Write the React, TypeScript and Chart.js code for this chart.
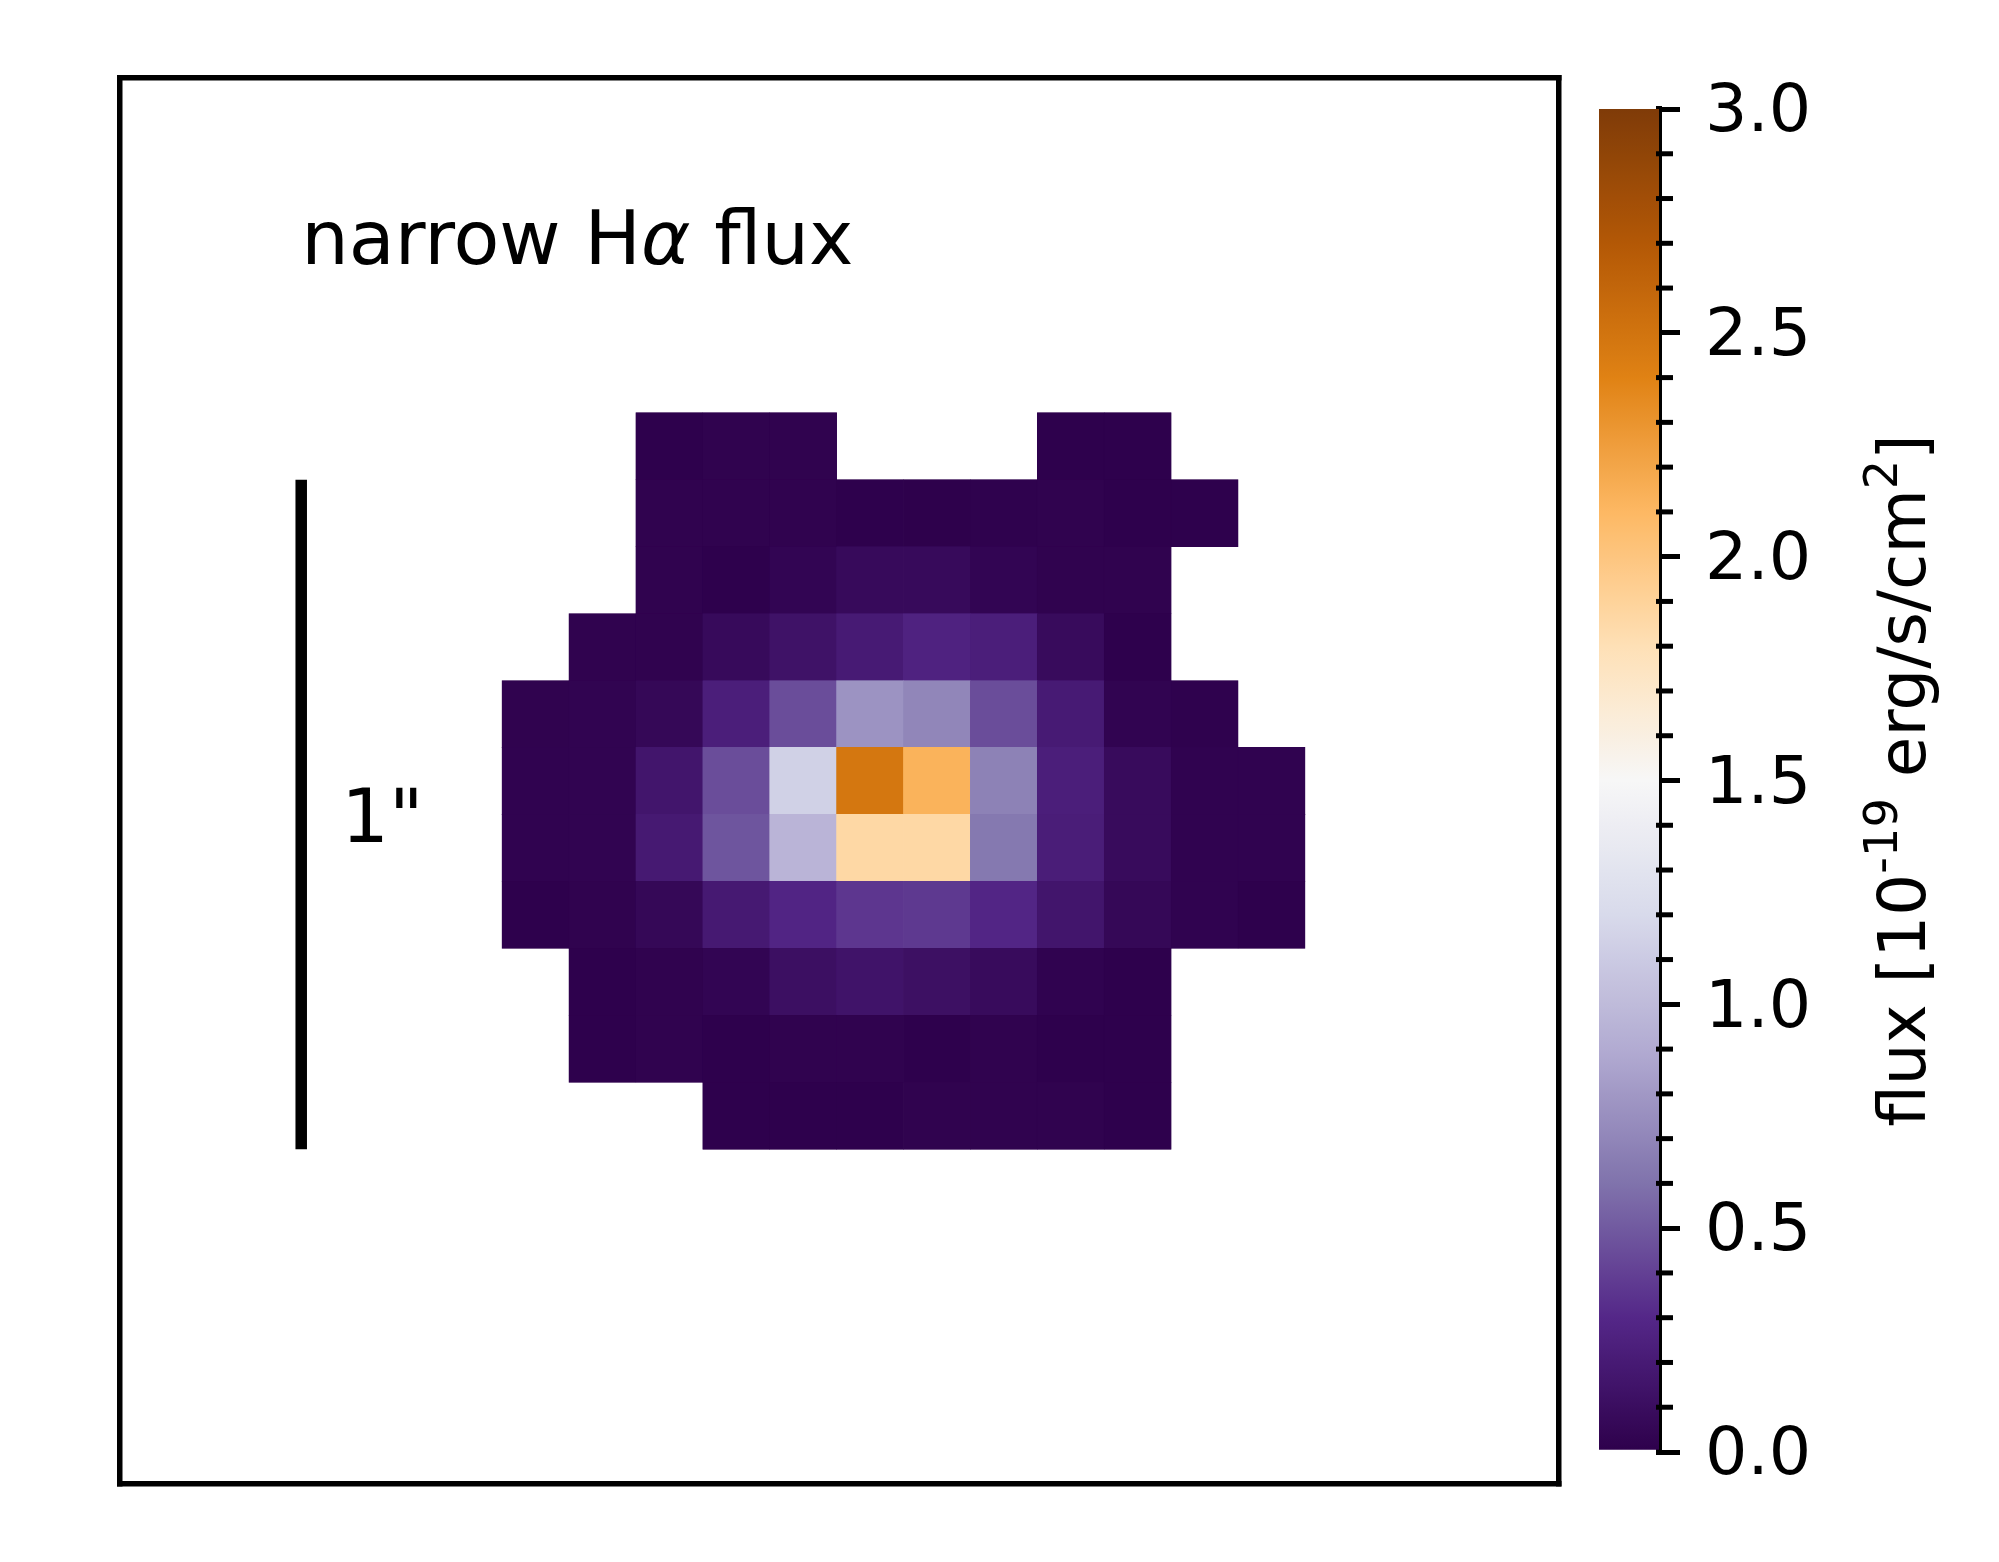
import React, { useEffect, useRef } from 'react';
import { Chart, registerables } from 'chart.js';

Chart.register(...registerables);
Chart.defaults.font.family = '"DejaVu Sans"';

// ---------------- data (narrow H-alpha flux map, 1e-19 erg/s/cm^2) ----------------
const columnIndex = [0, 1, 2, 3, 4, 5, 6, 7, 8, 9, 10, 11];
const fluxRow0 = [null, null, 0.01, 0.02, 0.02, null, null, null, 0.01, 0.01, null, null];
const fluxRow1 = [null, null, 0.02, 0.02, 0.02, 0.01, 0.005, 0.015, 0.02, 0.01, 0.01, null];
const fluxRow2 = [null, null, 0.02, 0.01, 0.04, 0.08, 0.08, 0.04, 0.02, 0.02, null, null];
const fluxRow3 = [null, 0.02, 0.02, 0.08, 0.14, 0.2, 0.26, 0.23, 0.085, 0.01, null, null];
const fluxRow4 = [0.02, 0.03, 0.06, 0.23, 0.45, 0.77, 0.7, 0.45, 0.2, 0.03, 0.015, null];
const fluxRow5 = [0.025, 0.03, 0.16, 0.45, 1.14, 2.48, 2.13, 0.68, 0.23, 0.085, 0.025, 0.025];
const fluxRow6 = [0.025, 0.03, 0.19, 0.48, 0.96, 1.86, 1.86, 0.63, 0.22, 0.085, 0.025, 0.025];
const fluxRow7 = [0.01, 0.02, 0.06, 0.19, 0.28, 0.36, 0.37, 0.285, 0.16, 0.06, 0.025, 0.01];
const fluxRow8 = [null, 0.01, 0.02, 0.04, 0.115, 0.146, 0.12, 0.085, 0.025, 0.01, null, null];
const fluxRow9 = [null, 0.01, 0.02, 0.01, 0.02, 0.02, 0.01, 0.02, 0.01, 0.01, null, null];
const fluxRow10 = [null, null, null, 0.01, 0.01, 0.01, 0.02, 0.02, 0.02, 0.01, null, null];
const fluxRows = [fluxRow0, fluxRow1, fluxRow2, fluxRow3, fluxRow4, fluxRow5, fluxRow6, fluxRow7, fluxRow8, fluxRow9, fluxRow10];

const fluxMin = 0;
const fluxMax = 3;
const colorbarMajorStep = 0.5;
const colorbarMinorStep = 0.1;

// axis limits in pixel-grid units
const xLimits = [-5.708, 15.795];
const yLimits = [-5, 16];

// 1 arcsec scale bar (10 spaxels)
const scaleBarX = [-3, -3];
const scaleBarY = [1, 11];

const titleParts = [
  { text: 'narrow H', italic: false },
  { text: 'α', italic: true },
  { text: ' flux', italic: false },
];
const titleAnchor = [-3.0, -2.222];
const scaleLabel = '1"';
const scaleLabelAnchor = [-2.4, 6.404];

const colorbarLabelParts = [
  { text: 'flux [10', sup: false },
  { text: '-19', sup: true },
  { text: ' erg/s/cm', sup: false },
  { text: '2', sup: true },
  { text: ']', sup: false },
];

// matplotlib PuOr_r
const PUOR_R = [
  [45, 0, 75], [84, 39, 136], [128, 115, 172], [178, 171, 210], [216, 218, 235],
  [247, 247, 247], [254, 224, 182], [253, 184, 99], [224, 130, 20], [179, 88, 6], [127, 59, 8],
];

function cmap(v: number): string {
  let t = (v - fluxMin) / (fluxMax - fluxMin);
  t = Math.max(0, Math.min(1, t)) * (PUOR_R.length - 1);
  const i = Math.min(Math.floor(t), PUOR_R.length - 2);
  const f = t - i;
  const a = PUOR_R[i];
  const b = PUOR_R[i + 1];
  const c = a.map((av, k) => Math.round(av + (b[k] - av) * f));
  return `rgb(${c[0]},${c[1]},${c[2]})`;
}

const TITLE_FONT = 75;
const TICK_FONT = 66.7;
const LABEL_FONT = 66;
const FRAME_W = 5.5;

const annotationPlugin = {
  id: 'mapAnnotations',
  afterDatasetsDraw(chart: any) {
    const { ctx, scales } = chart;
    const x = scales.x;
    const y = scales.y;
    ctx.save();
    ctx.fillStyle = '#000';
    ctx.textAlign = 'left';
    ctx.textBaseline = 'alphabetic';
    let px = x.getPixelForValue(titleAnchor[0]);
    const py = y.getPixelForValue(titleAnchor[1]);
    for (const part of titleParts) {
      ctx.font = `${part.italic ? 'italic ' : ''}${TITLE_FONT}px "DejaVu Sans"`;
      ctx.fillText(part.text, px, py);
      px += ctx.measureText(part.text).width;
    }
    ctx.font = `${TITLE_FONT}px "DejaVu Sans"`;
    ctx.fillText(scaleLabel, x.getPixelForValue(scaleLabelAnchor[0]), y.getPixelForValue(scaleLabelAnchor[1]));
    ctx.restore();
  },
};

const minorTickPlugin = {
  id: 'minorTicks',
  afterDraw(chart: any) {
    const s = chart.scales.y;
    const { ctx } = chart;
    ctx.save();
    ctx.strokeStyle = '#000';
    ctx.lineWidth = 5;
    const n = Math.round((fluxMax - fluxMin) / colorbarMinorStep);
    const perMajor = Math.round(colorbarMajorStep / colorbarMinorStep);
    for (let i = 0; i <= n; i++) {
      if (i % perMajor === 0) continue;
      const v = fluxMin + i * colorbarMinorStep;
      const yy = s.getPixelForValue(v);
      ctx.beginPath();
      ctx.moveTo(s.left - 3, yy);
      ctx.lineTo(s.left + 14, yy);
      ctx.stroke();
    }
    ctx.restore();
  },
};

const colorbarLabelPlugin = {
  id: 'colorbarLabel',
  afterDraw(chart: any) {
    const s = chart.scales.y;
    const { ctx } = chart;
    const base = LABEL_FONT;
    ctx.save();
    ctx.fillStyle = '#000';
    ctx.textBaseline = 'alphabetic';
    ctx.textAlign = 'left';
    const widths = colorbarLabelParts.map((p) => {
      ctx.font = `${p.sup ? base * 0.7 : base}px "DejaVu Sans"`;
      return ctx.measureText(p.text).width;
    });
    const total = widths.reduce((a, b) => a + b, 0);
    const cx = s.left + 266;
    const cy = (s.top + s.bottom) / 2;
    ctx.translate(cx, cy);
    ctx.rotate(-Math.PI / 2);
    let px = -total / 2;
    colorbarLabelParts.forEach((p, i) => {
      ctx.font = `${p.sup ? base * 0.7 : base}px "DejaVu Sans"`;
      ctx.fillText(p.text, px, p.sup ? -base * 0.42 : 0);
      px += widths[i];
    });
    ctx.restore();
  },
};

function frameAxis(position: string, isX: boolean) {
  const lim = isX ? xLimits : yLimits;
  return {
    type: 'linear',
    position,
    min: lim[0],
    max: lim[1],
    reverse: !isX,
    offset: false,
    display: true,
    ticks: { display: false },
    grid: { display: false, drawTicks: false, lineWidth: FRAME_W, offset: false },
    border: { display: true, width: FRAME_W, color: '#000' },
    afterBuildTicks: (s: any) => {
      s.ticks = [{ value: s.min }, { value: s.max }];
    },
  };
}

export default function App() {
  const mapRef = useRef<HTMLCanvasElement | null>(null);
  const cbRef = useRef<HTMLCanvasElement | null>(null);

  useEffect(() => {
    const cells: any[] = [];
    const colors: string[] = [];
    fluxRows.forEach((row, r) => {
      row.forEach((v, c) => {
        if (v === null || v === undefined) return;
        cells.push({ x: columnIndex[c] + 0.5, y: [r, r + 1] });
        colors.push(cmap(v));
      });
    });
    const scaleBar = scaleBarX.map((xv, i) => ({ x: xv, y: scaleBarY[i] }));

    const mapChart = new Chart(mapRef.current as HTMLCanvasElement, {
      type: 'bar',
      data: {
        datasets: [
          {
            type: 'line',
            data: scaleBar,
            borderColor: '#000',
            borderWidth: 11.5,
            borderCapStyle: 'butt',
            pointRadius: 0,
            fill: false,
            xAxisID: 'x',
            yAxisID: 'y',
            order: 1,
          } as any,
          {
            type: 'bar',
            data: cells,
            backgroundColor: colors,
            borderColor: colors,
            borderWidth: 0.5,
            borderSkipped: false,
            inflateAmount: 0.4,
            grouped: false,
            categoryPercentage: 1,
            barPercentage: 1,
            xAxisID: 'x',
            yAxisID: 'y',
            order: 2,
          } as any,
        ],
      },
      options: {
        responsive: false,
        animation: false,
        events: [],
        layout: { padding: { left: 120, top: 78, right: 21, bottom: 78 } },
        plugins: { legend: { display: false }, tooltip: { enabled: false } },
        scales: {
          x: frameAxis('bottom', true),
          x2: frameAxis('top', true),
          y: frameAxis('left', false),
          y2: frameAxis('right', false),
        } as any,
      },
      plugins: [annotationPlugin],
    });

    const cbChart = new Chart(cbRef.current as HTMLCanvasElement, {
      type: 'bar',
      data: {
        labels: [''],
        datasets: [
          {
            data: [[fluxMin, fluxMax]] as any,
            backgroundColor: (context: any) => {
              const { chart } = context;
              const { ctx, chartArea, scales } = chart;
              if (!chartArea) return cmap(fluxMin);
              const y0 = scales.y.getPixelForValue(fluxMin);
              const y1 = scales.y.getPixelForValue(fluxMax);
              const g = ctx.createLinearGradient(0, y0, 0, y1);
              const steps = 60;
              for (let i = 0; i <= steps; i++) {
                const f = i / steps;
                g.addColorStop(f, cmap(fluxMin + f * (fluxMax - fluxMin)));
              }
              return g;
            },
            borderWidth: 0,
            categoryPercentage: 1,
            barPercentage: 1,
          },
        ],
      },
      options: {
        responsive: false,
        animation: false,
        events: [],
        layout: { padding: { left: 39, top: 109, right: 0, bottom: 110 } },
        plugins: { legend: { display: false }, tooltip: { enabled: false } },
        scales: {
          x: { display: false },
          y: {
            type: 'linear',
            position: 'right',
            min: fluxMin,
            max: fluxMax,
            ticks: {
              stepSize: colorbarMajorStep,
              callback: (v: any) => Number(v).toFixed(1),
              font: { family: '"DejaVu Sans"', size: TICK_FONT },
              color: '#000',
              padding: 25,
              labelOffset: 5,
            },
            grid: { drawOnChartArea: false, drawTicks: true, tickLength: 21, tickWidth: 5, tickColor: '#000', lineWidth: 5 },
            border: { display: true, width: 6, color: '#000' },
            afterFit: (s: any) => {
              s.width = 340;
            },
          },
        } as any,
      },
      plugins: [minorTickPlugin, colorbarLabelPlugin],
    });

    return () => {
      mapChart.destroy();
      cbChart.destroy();
    };
  }, []);

  return (
    <div style={{ position: 'absolute', left: 0, top: 0, width: 1999, height: 1562, background: '#fff' }}>
      <canvas ref={mapRef} width={1580} height={1562} style={{ position: 'absolute', left: 0, top: 0 }} />
      <canvas ref={cbRef} width={439} height={1562} style={{ position: 'absolute', left: 1560, top: 0 }} />
    </div>
  );
}
